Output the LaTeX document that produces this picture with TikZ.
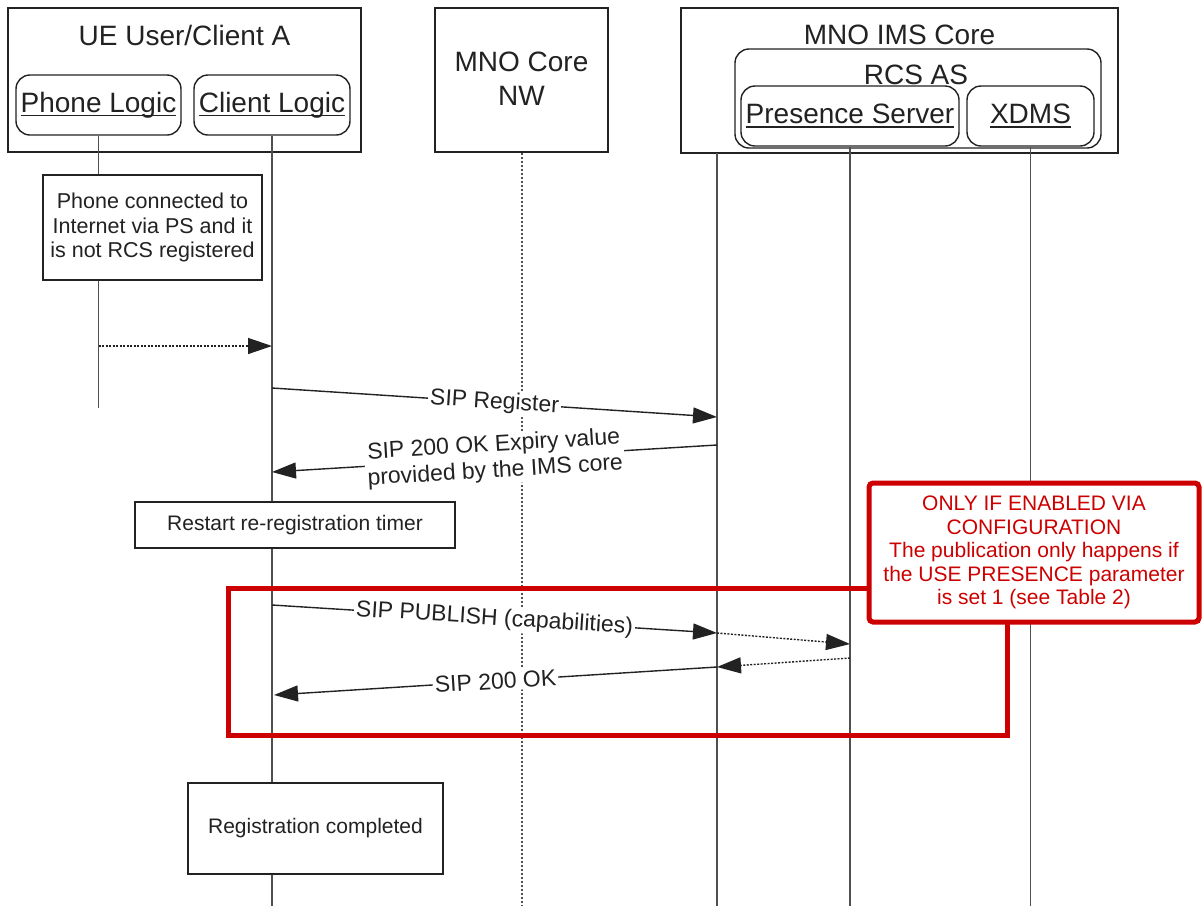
\documentclass[tikz,border=0pt]{standalone}
\usepackage{fontspec}
\setmainfont{Liberation Sans}
\usetikzlibrary{arrows.meta}

\definecolor{ink}{HTML}{222222}
\definecolor{life}{HTML}{505050}
\definecolor{alert}{HTML}{CC0000}

% underline at a fixed distance below the baseline
\newcommand\ulbox[1]{\sbox0{#1}\rlap{\rule[-4pt]{\wd0}{1.4pt}}\usebox0}

\begin{document}
\begin{tikzpicture}[x=1pt, y=-1pt, color=ink,
  frame/.style={draw=ink, fill=white, line width=1.4pt, inner sep=0pt},
  rframe/.style={frame, rounded corners=14pt},
  big/.style={font=\fontsize{28}{34}\selectfont, align=center, inner sep=0pt},
  small/.style={font=\fontsize{21}{24.5}\selectfont, align=center},
  msglabel/.style={font=\fontsize{23}{26}\selectfont, align=center, fill=white,
                   sloped, midway, inner sep=2pt},
  lifeline/.style={draw=life, line width=1.7pt},
  dotline/.style={draw=life, line width=1.4pt, dash pattern=on 2.5pt off 1.5pt},
  msg/.style={draw=ink, line width=1.4pt, -{Triangle[length=24pt, width=16pt]}},
  dmsg/.style={msg, dash pattern=on 2pt off 1.5pt},
  alertbox/.style={draw=alert, line width=5pt},
]
\useasboundingbox (0,0) rectangle (1203,906);

% ---------- participant headers ----------
\node[frame, minimum width=353pt, minimum height=144pt] (ue) at (184.5,80) {};
\node[big] (uet) at (184.5,35) {UE User/Client A};
\node[rframe, minimum width=165pt, minimum height=60pt] (phone) at (98.5,105) {};
\node[big] at (phone) {\ulbox{Phone Logic}};
\node[rframe, minimum width=156pt, minimum height=60pt] (client) at (272,105) {};
\node[big] at (client) {\ulbox{Client Logic}};

\node[frame, minimum width=173pt, minimum height=144pt] (mno) at (521.5,80) {};
\node[big] (mnot) at (521.5,79) {MNO Core\\NW};

\node[frame, minimum width=437pt, minimum height=145pt] (ims) at (899.5,80.5) {};
\node[big] (imst) at (899.5,35) {MNO IMS Core};
\node[rframe, minimum width=366pt, minimum height=99pt] (rcs) at (918,98.5) {};
\node[big] (rcst) at (916,75) {RCS AS};
\node[rframe, minimum width=218pt, minimum height=60pt] (pres) at (850,116) {};
\node[big] at (pres) {\ulbox{Presence Server}};
\node[rframe, minimum width=127pt, minimum height=60pt] (xdms) at (1030.5,116) {};
\node[big] at (xdms) {\ulbox{XDMS}};

% ---------- lifelines ----------
\coordinate (phone-end) at (98.5,408);
\coordinate (client-end) at (272,906);
\coordinate (mno-end) at (522,906);
\coordinate (ims-top) at (717,153);
\coordinate (ims-end) at (717,906);
\coordinate (pres-end) at (850,906);
\coordinate (xdms-end) at (1030.5,906);

\draw[lifeline] (phone.south) -- (phone-end);
\draw[lifeline] (client.south) -- (client-end);
\draw[dotline] (mno.south -| mno-end) -- (mno-end);
\draw[lifeline] (ims-top) -- (ims-end);
\draw[lifeline] (pres.south) -- (pres-end);
\draw[lifeline] (xdms.south) -- (xdms-end);

% ---------- notes on the lifelines ----------
\node[frame, minimum width=219pt, minimum height=105pt] (note1) at (152.5,227.5) {};
\node[small, font=\fontsize{21.5}{24.5}\selectfont] at (note1)
  {Phone connected to\\Internet via PS and it\\is not RCS registered};
\node[frame, minimum width=320pt, minimum height=46pt] (restart) at (295,525)
  {\fontsize{21}{24}\selectfont Restart re-registration timer};
\node[frame, minimum width=255pt, minimum height=91pt] (done) at (315.5,828.5)
  {\fontsize{21}{24}\selectfont Registration completed};

% ---------- messages ----------
\coordinate (m0a) at (98.5,346);  \coordinate (m0b) at (272,346);
\coordinate (m1a) at (272,388);   \coordinate (m1b) at (717,417);
\coordinate (m2a) at (717,445);   \coordinate (m2b) at (272,472);
\coordinate (m3a) at (272,605);   \coordinate (m3b) at (717,633);
\coordinate (m4b) at (850,644);
\coordinate (m5a) at (850,658);   \coordinate (m5b) at (717,667);
\coordinate (m6b) at (274,695);

\draw[dmsg] (m0a) -- (m0b);
\draw[msg] (m1a) -- node[msglabel] {SIP Register} (m1b);
\draw[msg] (m2a) -- node[msglabel] {SIP 200 OK Expiry value\\provided by the IMS core} (m2b);
\draw[msg] (m3a) -- node[msglabel] {SIP PUBLISH (capabilities)} (m3b);
\draw[dmsg] (m3b) -- (m4b);
\draw[dmsg] (m5a) -- (m5b);
\draw[msg] (m5b) -- node[msglabel] {SIP 200 OK} (m6b);

% ---------- conditional part ----------
\node[alertbox, minimum width=779pt, minimum height=147pt, inner sep=0pt] (cond) at (617.5,661.5) {};
\node[alertbox, fill=white, rounded corners=4pt, minimum width=330pt, minimum height=139pt,
      inner sep=0pt] (condnote) at (1034,552.5) {};
\node[text=alert, font=\fontsize{21}{23.5}\selectfont, align=center] at (condnote)
  {ONLY IF ENABLED VIA\\CONFIGURATION\\The publication only happens if\\the USE PRESENCE parameter\\is set 1 (see Table 2)};
\end{tikzpicture}
\end{document}
